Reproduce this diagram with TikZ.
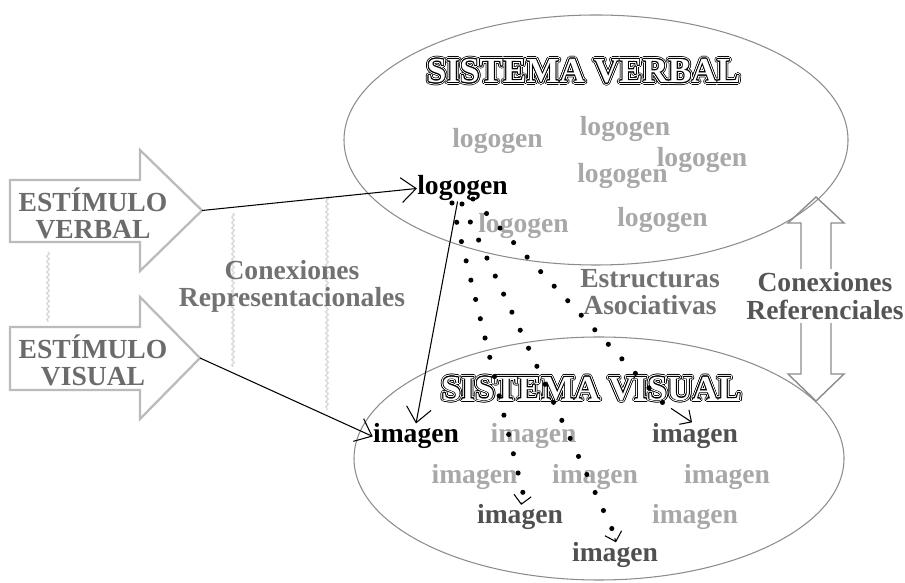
\documentclass[tikz,border=0pt]{standalone}
\usepackage{fontspec}
\setmainfont{Liberation Serif}
\usepackage[copies]{contour}
\usetikzlibrary{arrows.meta,decorations.pathmorphing}

\definecolor{ringgrey}{HTML}{8C8C8C}
\definecolor{blockgrey}{HTML}{BBBBBB}
\definecolor{stimgrey}{HTML}{6B6B6B}
\definecolor{labelgrey}{HTML}{727272}
\definecolor{refgrey}{HTML}{555555}
\definecolor{faintgrey}{HTML}{A8A8A8}
\definecolor{darkgrey}{HTML}{505050}

% double outlined title letters
\newcommand{\engraved}[1]{%
  \rlap{\contourlength{1.5pt}\contour{black}{#1}}%
  \rlap{\contourlength{1.0pt}\contour{white}{\color{white}#1}}%
  \contourlength{0.45pt}\contour{black}{\color{white}#1}}

\begin{document}
\begin{tikzpicture}[scale=0.2]
            \tikzstyle{every node}+=[inner sep=0pt]
            \tikzstyle{word}=[font=\bfseries\fontsize{15.7}{15.5}\selectfont]
            \tikzstyle{faint}=[word, text=faintgrey, anchor=base]
            \tikzstyle{dark}=[word, text=darkgrey, anchor=base]
            \tikzstyle{bold}=[word, text=black, anchor=base]
            \tikzstyle{twoline}=[word, align=center]
            \tikzstyle{title}=[font=\bfseries\fontsize{20}{22}\selectfont]
            \tikzstyle{link}=[draw=black, line width=0.6pt, -{Straight Barb[angle=80:11pt]}]
            \tikzstyle{chaintip}=[draw=black, line width=0.6pt, -{Straight Barb[angle=90:7pt]}, shorten <=5.5pt]
            \tikzstyle{dotchain}=[draw=black, line width=2.9pt, line cap=round, dash pattern=on 0pt off 11.3pt]
            \tikzstyle{snakeline}=[draw=gray!30, line width=0.8pt, decorate, decoration={snake, amplitude=0.7pt, segment length=3pt}]
            \useasboundingbox (0,0) rectangle (90.5,-58.3);
            % the two systems
            \draw [ringgrey, line width=0.6pt] (59.6,-14.0) ellipse (25.2 and 12.5);
            \draw [ringgrey, line width=0.6pt] (59.9,-45.85) ellipse (24.5 and 12.15);
            % stimulus arrows
            \draw [blockgrey, line width=1.3pt] (1.0,-18.0) -- (14.0,-18.0) -- (14.0,-15.0) -- (20.2,-21.05) -- (14.0,-27.1) -- (14.0,-24.2) -- (1.0,-24.2) -- cycle;
            \coordinate (verbtip) at (20.2,-21.05);
            \draw [blockgrey, line width=1.3pt] (1.0,-32.7) -- (14.0,-32.7) -- (14.0,-29.7) -- (20.0,-35.8) -- (14.0,-41.9) -- (14.0,-39.0) -- (1.0,-39.0) -- cycle;
            \coordinate (vistip) at (20.0,-35.8);
            \node [twoline, text=stimgrey] (verbal) at (9.3,-21.3) {ESTÍMULO\\VERBAL};
            \node [twoline, text=stimgrey] (visual) at (9.3,-36.0) {ESTÍMULO\\VISUAL};
            % wavy separators
            \draw [snakeline] (4.8,-25.2) -- (4.8,-32.2);
            \draw [snakeline] (23.3,-21.3) -- (23.3,-36.7);
            \draw [snakeline] (32.7,-19.7) -- (32.7,-41.0);
            \node [twoline, text=labelgrey] (repcon) at (29.2,-28.6) {Conexiones\\Representacionales};
            % referential double arrow
            \draw [ringgrey, line width=0.8pt] (81.6,-19.7) -- (84.4,-22.3) -- (83.1,-22.3) -- (83.1,-37.4) -- (84.4,-37.4) -- (81.6,-40.1) -- (78.8,-37.4) -- (80.1,-37.4) -- (80.1,-22.3) -- (78.8,-22.3) -- cycle;
            \node [twoline, text=refgrey, fill=white, inner ysep=2pt] (refcon) at (82.5,-29.6) {Conexiones\\Referenciales};
            \node [twoline, text=labelgrey] (assoc) at (65.0,-29.2) {Estructuras\\Asociativas};
            % titles
            \node [title] (verbtitle) at (58.35,-7.25) {\engraved{SISTEMA VERBAL}};
            \node [title] (vistitle) at (59.15,-39.0) {\engraved{SISTEMA VISUAL}};
            % logogens
            \node [faint] (logo1) at (49.75,-14.8) {logogen};
            \node [faint] (logo2) at (62.5,-13.6) {logogen};
            \node [faint] (logo3) at (70.2,-16.7) {logogen};
            \node [faint] (logo4) at (62.25,-18.3) {logogen};
            \node [faint] (logo5) at (66.25,-22.7) {logogen};
            \node [faint] (logo6) at (52.35,-23.3) {logogen};
            \node [bold] (logoA) at (46.25,-19.5) {logogen};
            % imagens
            \node [bold] (imgA) at (41.6,-44.3) {imagen};
            \node [faint] (imgB) at (53.35,-44.3) {imagen};
            \node [dark] (imgC) at (69.5,-44.3) {imagen};
            \node [faint] (imgD1) at (47.45,-48.3) {imagen};
            \node [faint] (imgD2) at (59.5,-48.3) {imagen};
            \node [faint] (imgD3) at (72.7,-48.3) {imagen};
            \node [dark] (imgE) at (52.0,-52.3) {imagen};
            \node [faint] (imgE2) at (69.5,-52.3) {imagen};
            \node [dark] (imgF) at (61.5,-56.1) {imagen};
            % representational connections
            \draw [link] (verbtip) -- (logoA.west);
            \draw [link] (vistip) -- (imgA.west);
            \draw [link] ([xshift=-14pt]logoA.south) -- (imgA.north);
            % associative chains
            \coordinate (startA) at (45.2,-20.3);
            \coordinate (endA) at (52.3,-49.3);
            \coordinate (startB) at (46.2,-20.4);
            \coordinate (endB) at (61.2,-52.9);
            \coordinate (startC) at (47.3,-19.9);
            \coordinate (endC) at (66.3,-40.3);
            \draw [dotchain] (startA) -- (endA);
            \draw [dotchain] (startB) -- (endB);
            \draw [dotchain] (startC) -- (endC);
            \draw [chaintip] (endA) -- ([xshift=3.4pt,yshift=-4pt]imgE.north);
            \draw [chaintip] (endB) -- ([xshift=2.8pt,yshift=-2.3pt]imgF.north);
            \draw [chaintip] (endC) -- ([xshift=-8.5pt,yshift=3.4pt]imgC.north);
\end{tikzpicture}
\end{document}
